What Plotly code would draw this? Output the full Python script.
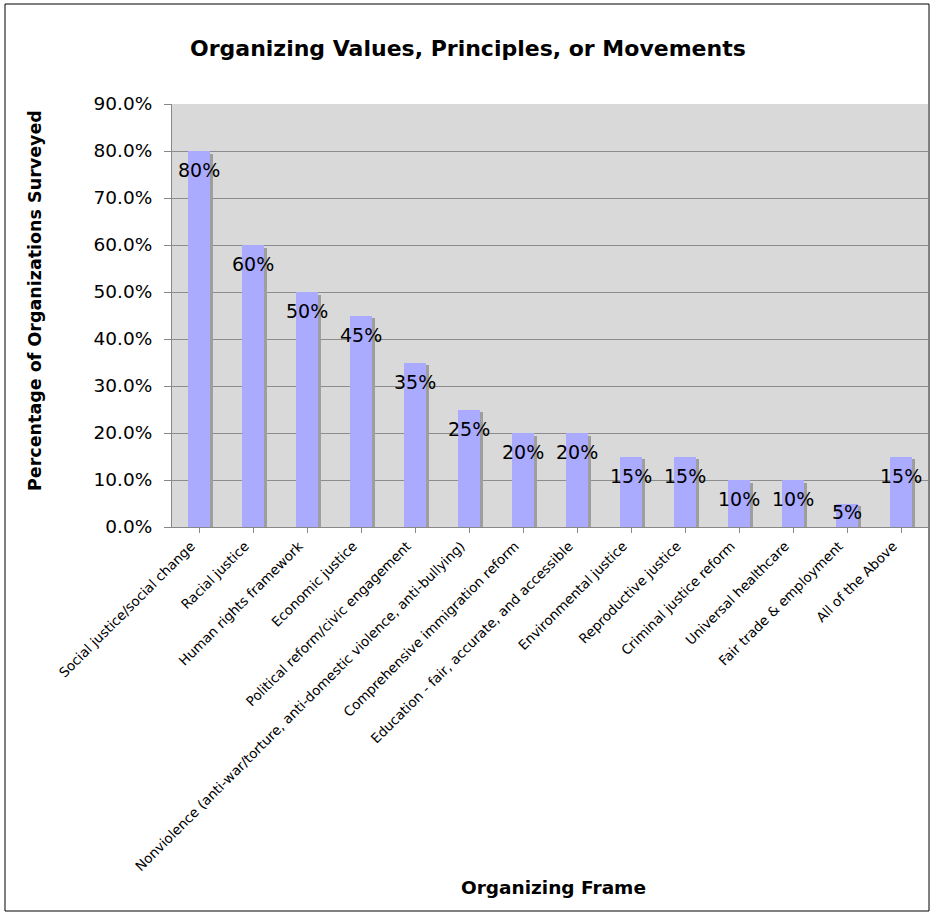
import plotly.graph_objects as go

categories = [
    "Social justice/social change",
    "Racial justice",
    "Human rights framework",
    "Economic justice",
    "Political reform/civic engagement",
    "Nonviolence (anti-war/torture, anti-domestic violence, anti-bullying)",
    "Comprehensive immigration reform",
    "Education - fair, accurate, and accessible",
    "Environmental justice",
    "Reproductive justice",
    "Criminal justice reform",
    "Universal healthcare",
    "Fair trade & employment",
    "All of the Above",
]
values = [0.80, 0.60, 0.50, 0.45, 0.35, 0.25, 0.20, 0.20, 0.15, 0.15, 0.10, 0.10, 0.05, 0.15]
labels = ["80%", "60%", "50%", "45%", "35%", "25%", "20%", "20%", "15%", "15%", "10%", "10%", "5%", "15%"]

FONT = "DejaVu Sans"
W, H = 931, 912
ML, MR, MT, MB = 172, 3, 104, 385
PW, PH = W - ML - MR, H - MT - MB
Y_MAX = 0.9


def px_x(x):
    return (x - ML) / PW


def px_y(y):
    return ((H - MB) - y) / PH


x_idx = list(range(len(categories)))

fig = go.Figure()

# soft drop shadow behind each bar
fig.add_trace(go.Bar(
    x=x_idx, y=[v - 0.006 for v in values],
    width=0.4, offset=-0.2 + 3 / (PW / len(categories)),
    marker=dict(color="#9E9E9E", line=dict(width=0)),
    hoverinfo="skip", showlegend=False,
))
fig.add_trace(go.Bar(
    x=x_idx, y=values,
    width=0.4, offset=-0.2,
    marker=dict(color="#AAAAFF", line=dict(width=0)),
    showlegend=False,
))

annotations = []
for i, (v, t) in enumerate(zip(values, labels)):
    # label sits just inside the bar top, but never closer than 15px to the axis
    bar_px = v / Y_MAX * PH
    shift = min(19, bar_px - 15)
    annotations.append(dict(
        x=i, y=v, xref="x", yref="y", text=t, showarrow=False,
        yanchor="middle", yshift=-shift,
        font=dict(family=FONT, size=19, color="black"),
    ))

annotations += [
    dict(text="<b>Organizing Values, Principles, or Movements</b>",
         xref="paper", yref="paper", x=px_x(468), y=px_y(48),
         showarrow=False, xanchor="center", yanchor="middle",
         font=dict(family=FONT, size=22, color="black")),
    dict(text="<b>Percentage of Organizations Surveyed</b>",
         xref="paper", yref="paper", x=px_x(35), y=px_y(301), textangle=-90,
         showarrow=False, xanchor="center", yanchor="middle",
         font=dict(family=FONT, size=17.5, color="black")),
    dict(text="<b>Organizing Frame</b>",
         xref="paper", yref="paper", x=px_x(553), y=px_y(887),
         showarrow=False, xanchor="center", yanchor="middle",
         font=dict(family=FONT, size=18.5, color="black")),
]

shapes = [
    dict(type="rect", xref="paper", yref="paper",
         x0=px_x(5), x1=px_x(929), y0=px_y(911), y1=px_y(4),
         line=dict(color="black", width=1), fillcolor="rgba(0,0,0,0)", layer="below"),
]

fig.update_layout(
    width=W, height=H,
    margin=dict(l=ML, r=MR, t=MT, b=MB, pad=0),
    paper_bgcolor="white",
    plot_bgcolor="#D9D9D9",
    barmode="overlay",
    bargap=0,
    font=dict(family=FONT, color="black"),
    annotations=annotations,
    shapes=shapes,
    showlegend=False,
)

fig.update_xaxes(
    tickmode="array", tickvals=x_idx, ticktext=categories,
    range=[-0.5, len(categories) - 0.5],
    tickangle=-45, tickfont=dict(family=FONT, size=13.5, color="black"),
    ticks="outside", tickson="boundaries", ticklen=5, tickcolor="#888888",
    ticklabelshift=-8,
    showline=True, linecolor="#888888", linewidth=1,
    showgrid=False, zeroline=False, fixedrange=True,
)
fig.update_yaxes(
    range=[0, Y_MAX], dtick=0.1, tickformat=".1%",
    tickfont=dict(family=FONT, size=18.5, color="black"),
    ticks="outside", ticklen=7, tickcolor="#888888", ticklabelstandoff=8,
    showline=True, linecolor="#888888", linewidth=1,
    showgrid=True, gridcolor="#8C8C8C", gridwidth=1,
    zeroline=False, fixedrange=True,
)

fig.write_html("out.html")
